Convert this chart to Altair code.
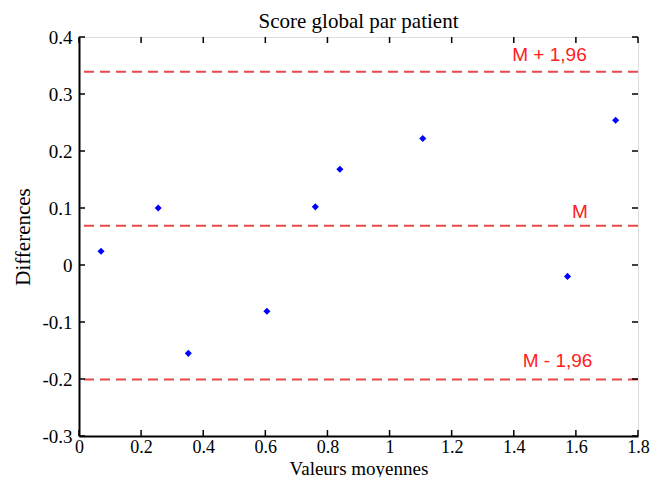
import altair as alt
import pandas as pd

# data
mean_x = [0.071, 0.255, 0.352, 0.605, 0.761, 0.840, 1.107, 1.573, 1.728]
diff_y = [0.024, 0.100, -0.155, -0.081, 0.102, 0.168, 0.222, -0.020, 0.254]

line_vals = [0.339, 0.069, -0.201]
line_labels = ["M + 1,96", "M", "M - 1,96"]
label_x = [1.515, 1.613, 1.541]
label_y = [0.369, 0.093, -0.169]

x_ticks = [0, 0.2, 0.4, 0.6, 0.8, 1.0, 1.2, 1.4, 1.6, 1.8]
y_ticks = [-0.3, -0.2, -0.1, 0, 0.1, 0.2, 0.3, 0.4]

pts = pd.DataFrame({"x": mean_x, "y": diff_y})
lines = pd.DataFrame({"y": line_vals})
labs = pd.DataFrame({"label": line_labels, "lx": label_x, "ly": label_y})
xt = pd.DataFrame({"x": x_ticks})
yt = pd.DataFrame({"y": y_ticks})

xs = alt.Scale(domain=[0, 1.8], nice=False, zero=False)
ys = alt.Scale(domain=[-0.3, 0.4], nice=False, zero=False)

serif = "Liberation Serif"
fmt = "replace(format(datum.value, '.1~f'), '\u2212', '-')"

W, H = 559, 399

xaxis = alt.Axis(values=x_ticks, grid=False, ticks=False, labelFont=serif, labelFontSize=18,
                 labelColor="black", labelPadding=2, title="Valeurs moyennes", titleFont=serif,
                 titleFontSize=19, titleFontWeight="normal", titleColor="black",
                 titleY=38, titleBaseline="alphabetic",
                 domainColor="black", domainWidth=2, labelExpr=fmt, labelFlush=False)
yaxis = alt.Axis(values=y_ticks, grid=False, ticks=False, labelFont=serif, labelFontSize=19,
                 labelColor="black", labelPadding=7, title="Differences", titleFont=serif,
                 titleFontSize=21, titleFontWeight="normal", titleColor="black", titlePadding=8,
                 domainColor="black", domainWidth=2, labelExpr=fmt, labelFlush=False)

base = alt.Chart(pts).mark_point(shape="diamond", filled=True, color="#0000ff", size=50, opacity=1).encode(
    x=alt.X("x:Q", scale=xs, axis=xaxis),
    y=alt.Y("y:Q", scale=ys, axis=yaxis),
)

hlines = alt.Chart(lines).mark_rule(color="#e8484a", strokeWidth=2, strokeDash=[10, 6]).encode(
    y=alt.Y("y:Q", scale=ys)
)

labels = alt.Chart(labs).mark_text(color="#ff2020", font="Liberation Sans", fontSize=19,
                                    align="center", baseline="middle").encode(
    x=alt.X("lx:Q", scale=xs),
    y=alt.Y("ly:Q", scale=ys),
    text="label:N",
)

tk = 6
# inward ticks: bottom, top, left, right
tb = alt.Chart(xt).mark_rule(color="black", strokeWidth=1.5).encode(
    x=alt.X("x:Q", scale=xs), y=alt.value(H), y2=alt.value(H - tk))
tt = alt.Chart(xt).mark_rule(color="black", strokeWidth=1.5).encode(
    x=alt.X("x:Q", scale=xs), y=alt.value(0), y2=alt.value(tk))
tl = alt.Chart(yt).mark_rule(color="black", strokeWidth=1.5).encode(
    y=alt.Y("y:Q", scale=ys), x=alt.value(0), x2=alt.value(tk))
tr = alt.Chart(yt).mark_rule(color="black", strokeWidth=1.5).encode(
    y=alt.Y("y:Q", scale=ys), x=alt.value(W), x2=alt.value(W - tk))

chart = alt.layer(hlines, base, labels, tb, tt, tl, tr).properties(
    width=W, height=H,
    title=alt.Title("Score global par patient", font=serif, fontSize=21, fontWeight="normal",
                    color="black", offset=-4),
    autosize=alt.AutoSizeParams(type="none"),
    padding={"left": 71, "top": 29, "right": 14, "bottom": 41},
).configure_view(stroke="black", strokeWidth=2).configure(background="white")

chart.save("out.html", embed_options={"renderer": "svg", "actions": False})
